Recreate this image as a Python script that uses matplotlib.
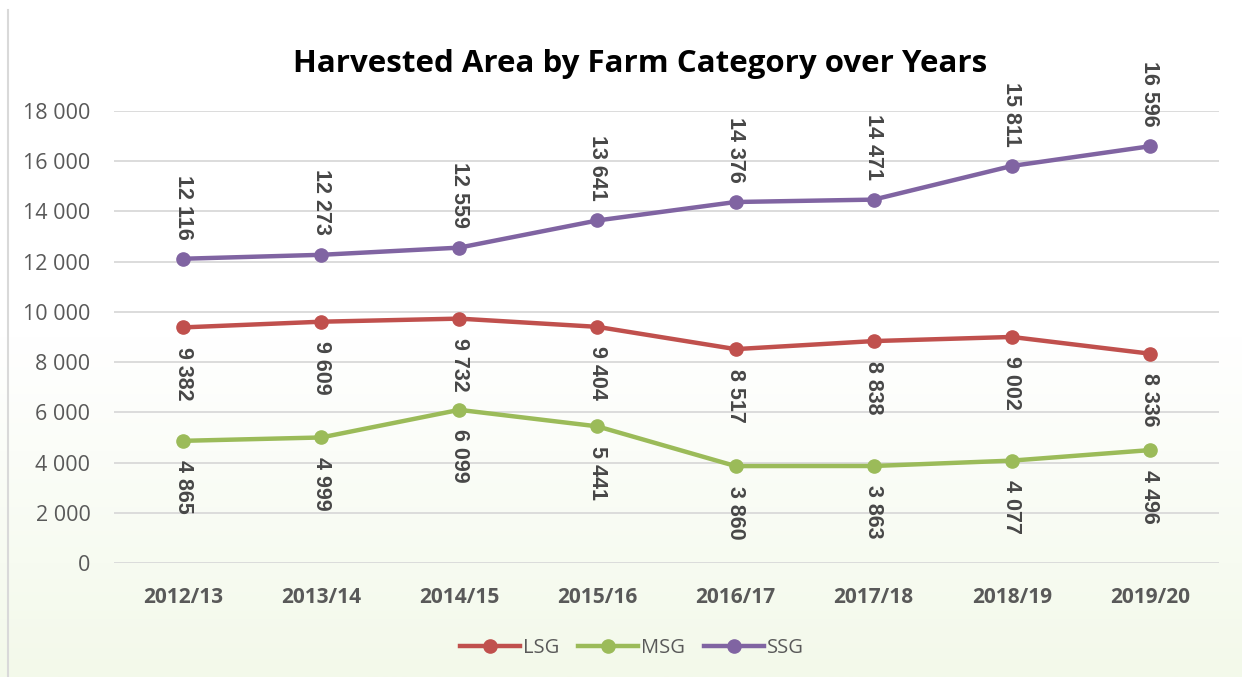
import numpy as np
import matplotlib.pyplot as plt
from matplotlib.colors import LinearSegmentedColormap
from matplotlib.lines import Line2D

years = ["2012/13", "2013/14", "2014/15", "2015/16", "2016/17", "2017/18", "2018/19", "2019/20"]
lsg = [9382, 9609, 9732, 9404, 8517, 8838, 9002, 8336]
msg = [4865, 4999, 6099, 5441, 3860, 3863, 4077, 4496]
ssg = [12116, 12273, 12559, 13641, 14376, 14471, 15811, 16596]

series = [
    ("LSG", lsg, "#c0504d", -1),
    ("MSG", msg, "#9bbb59", -1),
    ("SSG", ssg, "#8064a2", 1),
]

font = "Open Sans"
grey = "#595959"


def fmt(v):
    return f"{v:,.0f}".replace(",", " ")


fig = plt.figure(figsize=(12.42, 6.77), dpi=100)

# faint green wash towards the bottom of the chart area
bg = fig.add_axes([0, 0, 1, 1], zorder=0)
wash = LinearSegmentedColormap.from_list("wash", ["#ffffff", "#ffffff", "#f3f9ea"])
bg.imshow(np.linspace(0, 1, 256).reshape(-1, 1), cmap=wash, aspect="auto",
          extent=[0, 1, 0, 1], origin="upper")
bg.plot([0.0065, 0.0065], [0, 0.985], color="#d9d9d9", lw=1.5)
bg.set_xlim(0, 1)
bg.set_ylim(0, 1)
bg.axis("off")

ax = fig.add_axes([114 / 1242, 1 - 563 / 677, 1105 / 1242, 452 / 677], zorder=1)
ax.patch.set_alpha(0)

x = np.arange(len(years))
for name, vals, color, side in series:
    ax.plot(x, vals, color=color, lw=3.2, marker="o", ms=9.5, label=name,
            solid_capstyle="round", zorder=3)
    for xi, v in zip(x, vals):
        ax.annotate(fmt(v), (xi, v), xytext=(0, 14 * side), textcoords="offset points",
                    rotation=-90, ha="center", va="bottom" if side > 0 else "top",
                    fontsize=15.5, fontweight="bold", color="#474747",
                    family="Liberation Sans")

ax.set_xlim(-0.5, len(years) - 0.5)
ax.set_ylim(0, 18000)
ax.set_yticks(np.arange(0, 18001, 2000))
ax.set_yticklabels([fmt(v) for v in np.arange(0, 18001, 2000)])
ax.set_xticks(x)
ax.set_xticklabels(years, fontweight="bold")
ax.grid(axis="y", color="#d9d9d9", lw=1.3)
ax.set_axisbelow(True)
for s in ax.spines.values():
    s.set_visible(False)
ax.tick_params(axis="both", length=0, colors=grey, labelsize=15)
ax.tick_params(axis="x", pad=17)
ax.tick_params(axis="y", labelsize=15.5, pad=17)
for lab in ax.get_xticklabels() + ax.get_yticklabels():
    lab.set_family(font)

fig.text(640 / 1242, 1 - 64 / 677, "Harvested Area by Farm Category over Years",
         ha="center", va="center", fontsize=22.5, fontweight="bold", family=font)

handles = [Line2D([0], [0], color=c, lw=3.2, marker="o", ms=9.5) for _, _, c, _ in series]
fig.legend(handles, [n for n, _, _, _ in series], loc="center",
           bbox_to_anchor=(632 / 1242, 1 - 648 / 677), ncol=3, frameon=False,
           prop={"family": font, "size": 14.5}, labelcolor=grey, handlelength=3.0,
           handletextpad=0.15, columnspacing=0.9)

fig.savefig("out.png", dpi=100)
